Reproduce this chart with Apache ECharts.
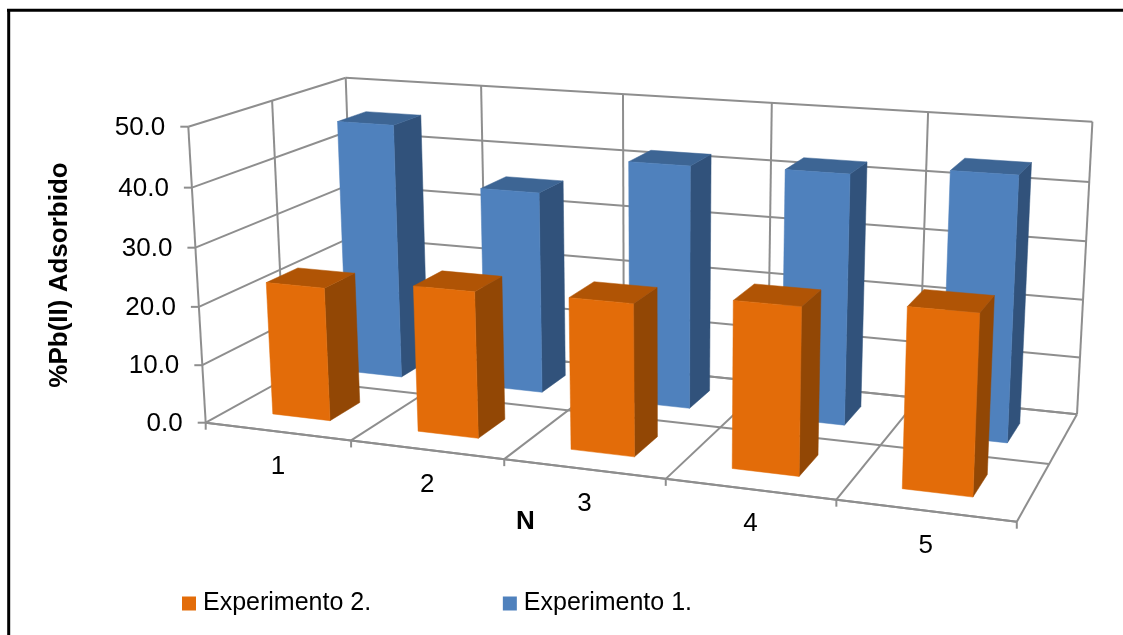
<!DOCTYPE html>
<html>
<head>
<meta charset="utf-8">
<title>%Pb(II) Adsorbido</title>
<style>
html,body{margin:0;padding:0;background:#fff}
#main{width:1123px;height:635px}
</style>
<script src="https://cdn.jsdelivr.net/npm/echarts@6/dist/echarts.min.js"></script>
</head>
<body>
<div id="main"></div>
<script>
// Adsorption results per cycle
const categories = ['1', '2', '3', '4', '5'];
const valueTicks = [0, 10, 20, 30, 40, 50];
const tickLabels = ['0.0', '10.0', '20.0', '30.0', '40.0', '50.0'];
const experimento1 = [45.5, 35.5, 42, 42.5, 44.2];
const experimento2 = [22.9, 24.7, 25.2, 27.2, 28.7];

const seriesName1 = 'Experimento 1.';
const seriesName2 = 'Experimento 2.';
const yTitle = '%Pb(II) Adsorbido';
const xTitle = 'N';

const FONT = '"Liberation Sans", Arial, sans-serif';
const GRID_W = 1000, GRID_H = 500;
const LINE = '#8e8e8e';

// Perspective camera of the 3D box: the floor is a homography of its four
// corners, the vertical column is fitted to the three visible top corners,
// and what the fit leaves over is spread linearly across the box.
const camera = (function () {
  const p0 = [205.7, 422.7], p1 = [1016.8, 521.7], p2 = [1077, 414.3], p3 = [355, 340];
  const tops = [[0, 0, 188.3, 126.7], [0, 1, 345.7, 77.7], [1, 1, 1092.4, 121.7]];
  const dx1 = p1[0] - p2[0], dx2 = p3[0] - p2[0], sx = p0[0] - p1[0] + p2[0] - p3[0];
  const dy1 = p1[1] - p2[1], dy2 = p3[1] - p2[1], sy = p0[1] - p1[1] + p2[1] - p3[1];
  const den = dx1 * dy2 - dx2 * dy1;
  const g = (sx * dy2 - dx2 * sy) / den, h = (dx1 * sy - sx * dy1) / den;
  const ax = [p1[0] - p0[0] + g * p1[0], p3[0] - p0[0] + h * p3[0], p0[0]];
  const ay = [p1[1] - p0[1] + g * p1[1], p3[1] - p0[1] + h * p3[1], p0[1]];
  const rows = tops.map(function (t) {
    const d = g * t[0] + h * t[1] + 1;
    return {
      X: t[2], Y: t[3],
      rx: t[2] * d - (ax[0] * t[0] + ax[1] * t[1] + ax[2]),
      ry: t[3] * d - (ay[0] * t[0] + ay[1] * t[1] + ay[2])
    };
  });
  const mean = function (k) { return rows.reduce(function (s, r) { return s + r[k]; }, 0) / rows.length; };
  const mX = mean('X'), mY = mean('Y'), mRx = mean('rx'), mRy = mean('ry');
  let num = 0, dn = 0;
  rows.forEach(function (r) {
    num += (r.X - mX) * (r.rx - mRx) + (r.Y - mY) * (r.ry - mRy);
    dn += (r.X - mX) * (r.X - mX) + (r.Y - mY) * (r.Y - mY);
  });
  const pw = -num / dn;
  const px = mRx + mX * pw, py = mRy + mY * pw;
  const base = function (a, b, c) {
    const d = g * a + h * c + 1 + pw * b;
    return [
      (ax[0] * a + ax[1] * c + ax[2] + px * b) / d,
      (ay[0] * a + ay[1] * c + ay[2] + py * b) / d
    ];
  };
  const rest = tops.map(function (t) {
    const q = base(t[0], 1, t[1]);
    return [t[2] - q[0], t[3] - q[1]];
  });
  return function (a, b, c) {
    // Slightly evens out the foreshortening along the category direction.
    const a1 = a + 0.012 * a * (1 - a);
    const q = base(a1, b, c);
    return [0, 1].map(function (k) {
      return q[k] + b * (rest[0][k] + a1 * (rest[2][k] - rest[1][k]) + c * (rest[1][k] - rest[0][k]));
    });
  };
})();

// Takes a (category position, value) pair through the chart's axes, then a depth into the box.
function project(api, u, v, w) {
  const c = api.coord([u, v]);
  return camera(c[0] / GRID_W, 1 - c[1] / GRID_H, w);
}

// Box edges: back wall, left wall and floor.
const nCat = categories.length;
const topValue = valueTicks[valueTicks.length - 1];
const boxLines = [];
valueTicks.forEach(function (v) {
  boxLines.push([0, v, 1, nCat, v, 1]);
  boxLines.push([0, v, 0, 0, v, 1]);
});
categories.forEach(function (_, i) {
  boxLines.push([i + 1, 0, 0, i + 1, 0, 1]);
  boxLines.push([i + 1, 0, 1, i + 1, topValue, 1]);
  boxLines.push([i + 1, 0, 0, i, 0, 0]);
});
[0, 0.5, 1].forEach(function (w) {
  boxLines.push([0, 0, w, 0, topValue, w]);
  boxLines.push([0, 0, w, nCat, 0, w]);
});

function renderBoxLine(params, api) {
  const a = project(api, api.value(0), api.value(1), api.value(2));
  const b = project(api, api.value(3), api.value(4), api.value(5));
  return {
    type: 'line',
    shape: { x1: a[0], y1: a[1], x2: b[0], y2: b[1] },
    style: { stroke: LINE, lineWidth: 2 }
  };
}

function renderValueTick(params, api) {
  const a = project(api, 0, api.value(0), 0);
  return {
    type: 'group',
    children: [
      { type: 'line', shape: { x1: a[0] - 8, y1: a[1], x2: a[0], y2: a[1] },
        style: { stroke: LINE, lineWidth: 2 } },
      { type: 'text', style: {
        text: tickLabels[params.dataIndex], x: a[0] - 23, y: a[1] + 1,
        align: 'right', verticalAlign: 'middle',
        fontFamily: FONT, fontSize: 26, fill: '#000' } }
    ]
  };
}

function renderCategoryTick(params, api) {
  const i = api.value(0);
  const edge = project(api, i, 0, 0);
  const mid = project(api, i + 0.5, 0, 0);
  const children = [
    { type: 'line', shape: { x1: edge[0], y1: edge[1], x2: edge[0], y2: edge[1] + 7 },
      style: { stroke: LINE, lineWidth: 2 } }
  ];
  if (i < nCat) {
    children.push({ type: 'text', style: {
      text: categories[i], x: mid[0] + 0.5, y: mid[1] + 35,
      align: 'center', verticalAlign: 'middle',
      fontFamily: FONT, fontSize: 26, fill: '#000' } });
  }
  return { type: 'group', children: children };
}

// A bar is a box a fifth of a category wide, standing in one of the two depth rows.
function barRenderer(w0, w1, front, top, side) {
  return function (params, api) {
    const u = api.value(0) + 0.5, v = api.value(1);
    const u0 = u - 0.2, u1 = u + 0.2;
    const flb = project(api, u0, 0, w0), frb = project(api, u1, 0, w0), brb = project(api, u1, 0, w1);
    const flt = project(api, u0, v, w0), frt = project(api, u1, v, w0);
    const brt = project(api, u1, v, w1), blt = project(api, u0, v, w1);
    const face = function (pts, color) {
      return { type: 'polygon', shape: { points: pts },
        style: { fill: color, stroke: color, lineWidth: 0.5 } };
    };
    return {
      type: 'group',
      children: [
        face([frb, brb, brt, frt], side),
        face([flt, frt, brt, blt], top),
        face([flb, frb, frt, flt], front)
      ]
    };
  };
}

const option = {
  animation: false,
  backgroundColor: '#fff',
  grid: { left: 0, top: 0, width: GRID_W, height: GRID_H, containLabel: false },
  xAxis: { type: 'value', min: 0, max: nCat, show: false },
  yAxis: { type: 'value', min: 0, max: topValue, interval: 10, show: false },
  legend: {
    data: [seriesName2, seriesName1],
    left: 177, top: 586,
    itemWidth: 14, itemHeight: 14, itemGap: 131.7,
    icon: 'rect',
    selectedMode: false,
    textStyle: { fontFamily: FONT, fontSize: 25, color: '#000', padding: [0, 0, 0, 2] }
  },
  graphic: [
    { type: 'line', shape: { x1: 7, y1: 10.3, x2: 1123, y2: 10.3 }, style: { stroke: '#000', lineWidth: 3 } },
    { type: 'line', shape: { x1: 8.7, y1: 9, x2: 8.7, y2: 635 }, style: { stroke: '#000', lineWidth: 3 } },
    { type: 'text', x: 60, y: 275, rotation: Math.PI / 2,
      style: { text: yTitle, align: 'center', verticalAlign: 'middle',
        fontFamily: FONT, fontWeight: 'bold', fontSize: 26, fill: '#000' } },
    { type: 'text', x: 525.5, y: 522,
      style: { text: xTitle, align: 'center', verticalAlign: 'middle',
        fontFamily: FONT, fontWeight: 'bold', fontSize: 26, fill: '#000' } }
  ],
  series: [
    { type: 'custom', silent: true, data: boxLines, renderItem: renderBoxLine, z: 1,
      encode: { x: [0, 3], y: [1, 4] } },
    { type: 'custom', silent: true, data: valueTicks.map(function (v) { return [v]; }),
      renderItem: renderValueTick, z: 1, encode: { y: 0 } },
    { type: 'custom', silent: true,
      data: categories.concat(['']).map(function (_, i) { return [i]; }),
      renderItem: renderCategoryTick, z: 1, encode: { x: 0 } },
    { name: seriesName1, type: 'custom', z: 2, silent: true,
      itemStyle: { color: '#4F81BD' },
      data: experimento1.map(function (v, i) { return [i, v]; }),
      encode: { x: 0, y: 1 },
      renderItem: barRenderer(0.65, 0.85, '#4F81BD', '#3D6594', '#31527B') },
    { name: seriesName2, type: 'custom', z: 3, silent: true,
      itemStyle: { color: '#E36C09' },
      data: experimento2.map(function (v, i) { return [i, v]; }),
      encode: { x: 0, y: 1 },
      renderItem: barRenderer(0.15, 0.35, '#E36C09', '#B05405', '#924705') }
  ]
};

const chart = echarts.init(document.getElementById('main'), null, { renderer: 'canvas' });
chart.setOption(option);
</script>
</body>
</html>
